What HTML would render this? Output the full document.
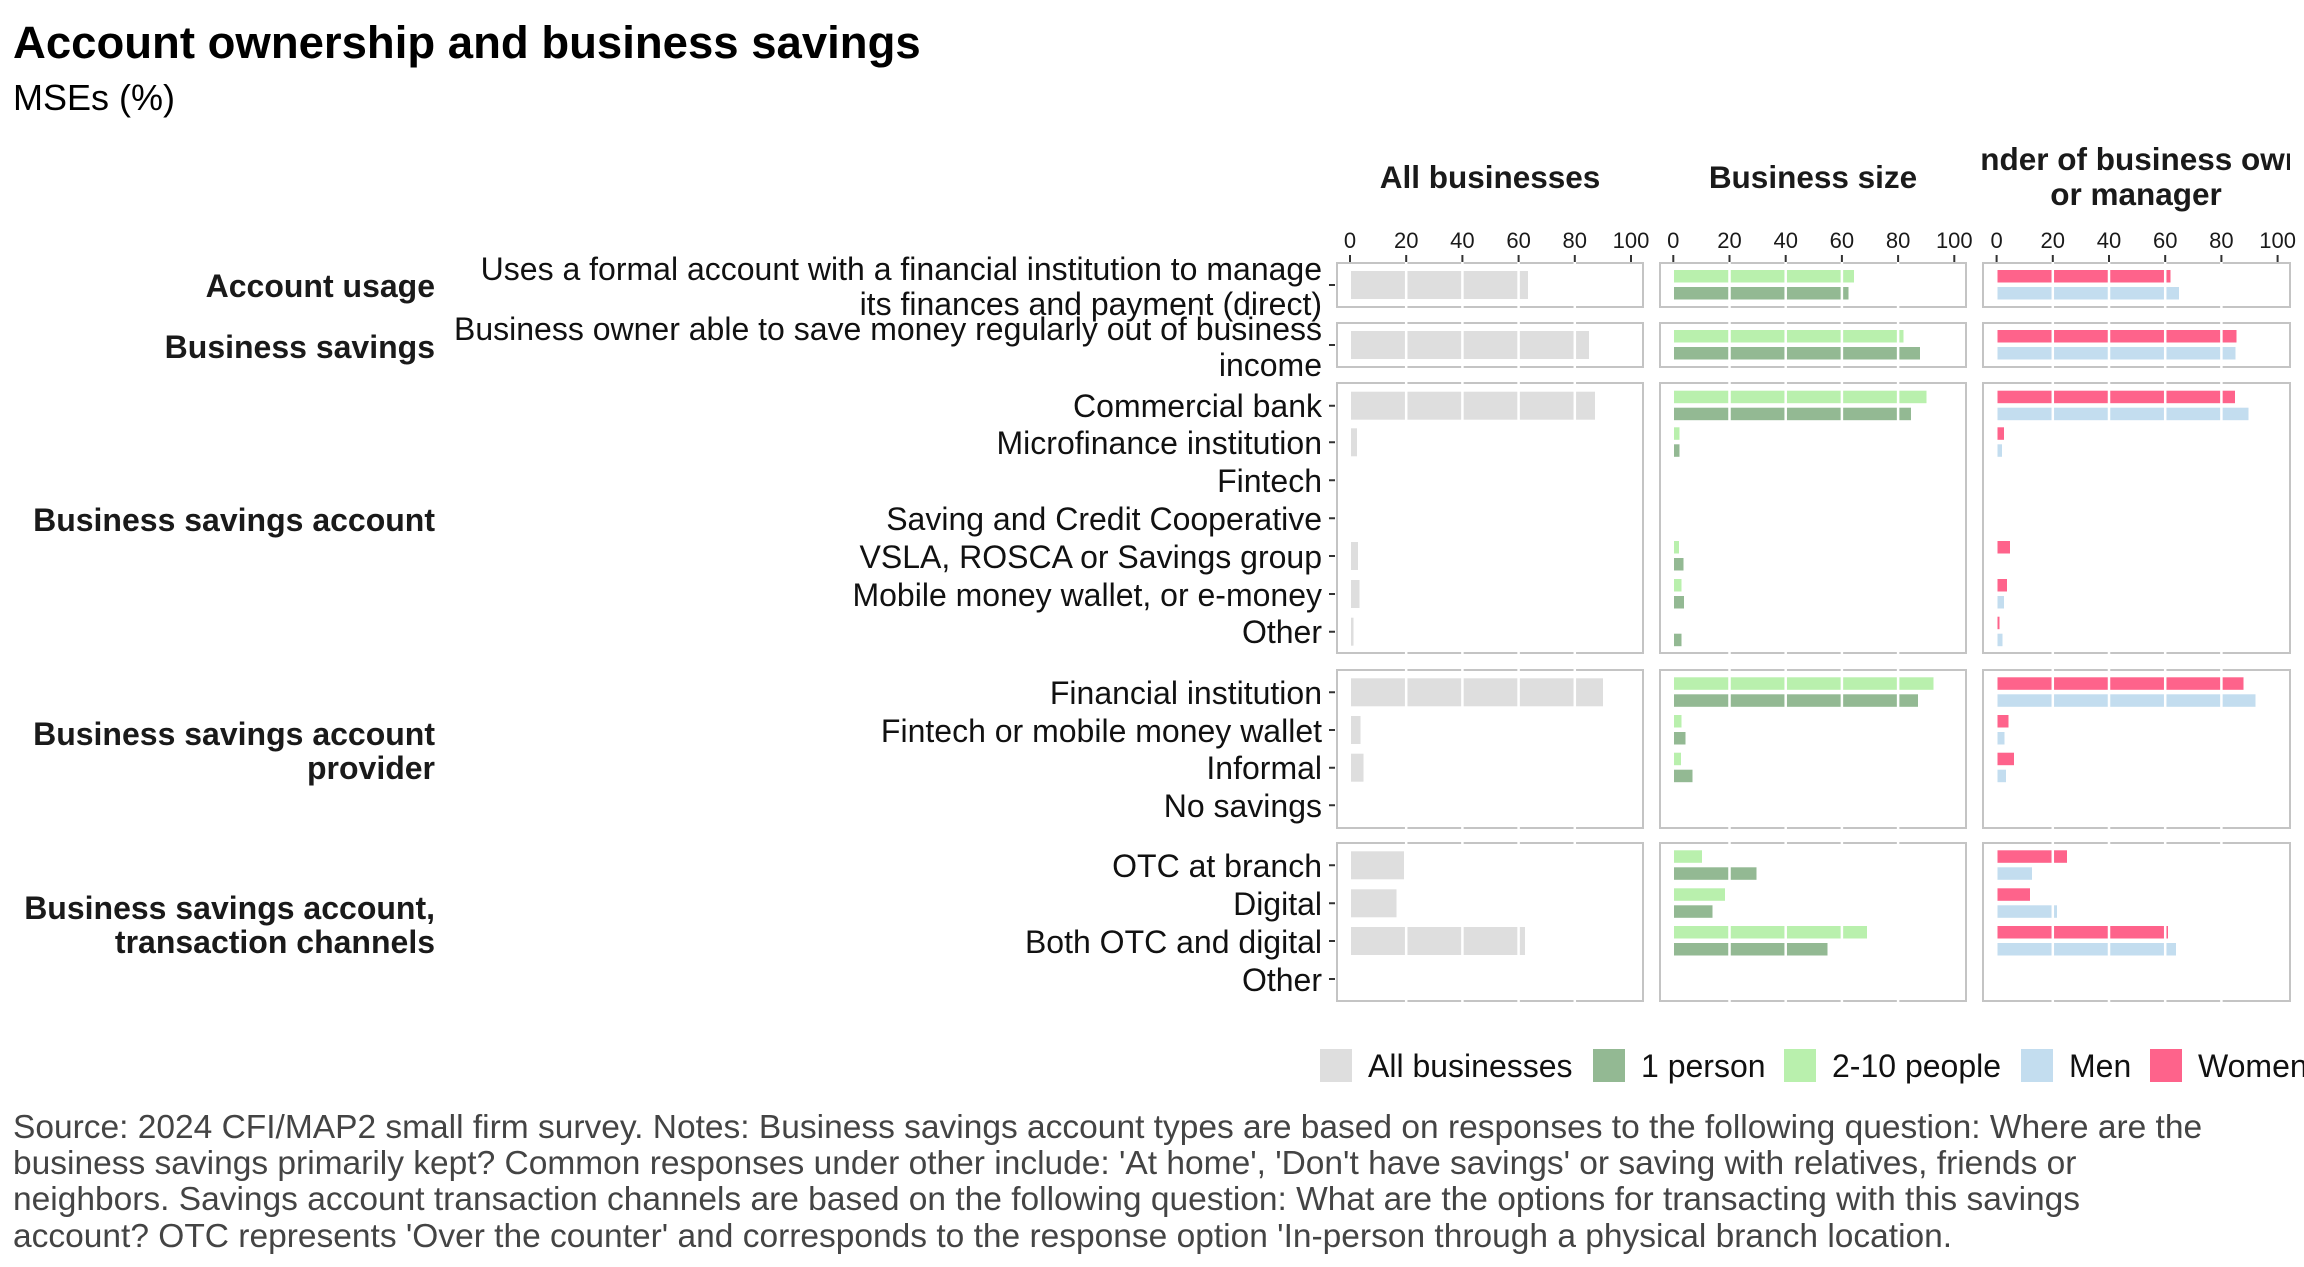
<!DOCTYPE html>
<html><head><meta charset="utf-8"><style>
html,body{margin:0;padding:0;background:#fff;}
svg{display:block;font-family:"Liberation Sans",Arial,sans-serif;}
</style></head><body>
<svg width="2304" height="1267" viewBox="0 0 2304 1267" xmlns="http://www.w3.org/2000/svg">
<defs>
<clipPath id="c3"><rect x="1982" y="130" width="308" height="90"/></clipPath>
</defs>
<text x="13" y="58" font-size="45.5" font-weight="bold" fill="#000">Account ownership and business savings</text>
<text x="13" y="110" font-size="36" fill="#000">MSEs (%)</text>

<g font-size="31.5" font-weight="bold" fill="#1a1a1a" text-anchor="middle">
<text x="1490" y="188">All businesses</text>
<text x="1813" y="188">Business size</text>
<g clip-path="url(#c3)"><text x="2136" y="170">Gender of business owner</text><text x="2136" y="205">or manager</text></g>
</g>

<g font-size="22" fill="#1a1a1a" text-anchor="middle">
<text x="1350" y="248">0</text><text x="1406.2" y="248">20</text><text x="1462.4" y="248">40</text><text x="1518.6" y="248">60</text><text x="1574.8" y="248">80</text><text x="1631" y="248">100</text>
<text x="1673.3" y="248">0</text><text x="1729.5" y="248">20</text><text x="1785.7" y="248">40</text><text x="1841.9" y="248">60</text><text x="1898.1" y="248">80</text><text x="1954.3" y="248">100</text>
<text x="1996.6" y="248">0</text><text x="2052.8" y="248">20</text><text x="2109" y="248">40</text><text x="2165.2" y="248">60</text><text x="2221.4" y="248">80</text><text x="2277.6" y="248">100</text>
</g>
<g stroke="#333" stroke-width="2">
<path d="M1350 255V262M1406.2 255V262M1462.4 255V262M1518.6 255V262M1574.8 255V262M1631 255V262"/>
<path d="M1673.3 255V262M1729.5 255V262M1785.7 255V262M1841.9 255V262M1898.1 255V262M1954.3 255V262"/>
<path d="M1996.6 255V262M2052.8 255V262M2109 255V262M2165.2 255V262M2221.4 255V262M2277.6 255V262"/>
<path d="M1329 285H1335M1329 345H1335M1329 405.7H1335M1329 442.3H1335M1329 480.3H1335M1329 518.3H1335M1329 556H1335M1329 594H1335M1329 631.7H1335M1329 692.3H1335M1329 730H1335M1329 767.7H1335M1329 805.3H1335M1329 865.3H1335M1329 903.3H1335M1329 941H1335M1329 979H1335"/>
</g>

<g font-size="32" font-weight="bold" fill="#1a1a1a" text-anchor="end">
<text x="435" y="297">Account usage</text>
<text x="435" y="358">Business savings</text>
<text x="435" y="531">Business savings account</text>
<text x="435" y="745">Business savings account</text>
<text x="435" y="779">provider</text>
<text x="435" y="919">Business savings account,</text>
<text x="435" y="953">transaction channels</text>
</g>
<g font-size="32" fill="#111" text-anchor="end">
<text x="1322" y="280">Uses a formal account with a financial institution to manage</text>
<text x="1322" y="315">its finances and payment (direct)</text>
<text x="1322" y="340">Business owner able to save money regularly out of business</text>
<text x="1322" y="376">income</text>
<text x="1322" y="417">Commercial bank</text>
<text x="1322" y="454">Microfinance institution</text>
<text x="1322" y="492">Fintech</text>
<text x="1322" y="530">Saving and Credit Cooperative</text>
<text x="1322" y="568">VSLA, ROSCA or Savings group</text>
<text x="1322" y="606">Mobile money wallet, or e-money</text>
<text x="1322" y="643">Other</text>
<text x="1322" y="704">Financial institution</text>
<text x="1322" y="742">Fintech or mobile money wallet</text>
<text x="1322" y="779">Informal</text>
<text x="1322" y="817">No savings</text>
<text x="1322" y="877">OTC at branch</text>
<text x="1322" y="915">Digital</text>
<text x="1322" y="953">Both OTC and digital</text>
<text x="1322" y="991">Other</text>
</g>

<g fill="#fff" stroke="#c4c4c4" stroke-width="2">
<rect x="1337" y="263" width="306" height="44"/><rect x="1660" y="263" width="306" height="44"/><rect x="1983" y="263" width="307" height="44"/>
<rect x="1337" y="323" width="306" height="44"/><rect x="1660" y="323" width="306" height="44"/><rect x="1983" y="323" width="307" height="44"/>
<rect x="1337" y="383" width="306" height="270"/><rect x="1660" y="383" width="306" height="270"/><rect x="1983" y="383" width="307" height="270"/>
<rect x="1337" y="670" width="306" height="158"/><rect x="1660" y="670" width="306" height="158"/><rect x="1983" y="670" width="307" height="158"/>
<rect x="1337" y="843" width="306" height="158"/><rect x="1660" y="843" width="306" height="158"/><rect x="1983" y="843" width="307" height="158"/>
</g>

<g fill="#dedede">
<rect x="1351" y="271" width="177" height="28"/>
<rect x="1351" y="331" width="238" height="28"/>
<rect x="1351" y="391.7" width="244" height="28"/>
<rect x="1351" y="428.3" width="6" height="28"/>
<rect x="1351" y="542" width="7" height="28"/>
<rect x="1351" y="580" width="8.5" height="28"/>
<rect x="1351" y="617.7" width="2.5" height="28"/>
<rect x="1351" y="678.3" width="252" height="28"/>
<rect x="1351" y="716" width="9.5" height="28"/>
<rect x="1351" y="753.7" width="12.5" height="28"/>
<rect x="1351" y="851.3" width="53" height="28"/>
<rect x="1351" y="889.3" width="45.5" height="28"/>
<rect x="1351" y="927" width="174" height="28"/>
</g>

<g fill="#b9f0ad">
<rect x="1674" y="270" width="180" height="12.5"/>
<rect x="1674" y="330" width="229.5" height="12.5"/>
<rect x="1674" y="390.7" width="252.5" height="12.5"/>
<rect x="1674" y="427.3" width="5.5" height="12.5"/>
<rect x="1674" y="541" width="5" height="12.5"/>
<rect x="1674" y="579" width="7.5" height="12.5"/>
<rect x="1674" y="677.3" width="259.5" height="12.5"/>
<rect x="1674" y="715" width="7.5" height="12.5"/>
<rect x="1674" y="752.7" width="7" height="12.5"/>
<rect x="1674" y="850.3" width="28" height="12.5"/>
<rect x="1674" y="888.3" width="51" height="12.5"/>
<rect x="1674" y="926" width="193" height="12.5"/>
</g>
<g fill="#93b993">
<rect x="1674" y="287" width="174.5" height="12.5"/>
<rect x="1674" y="347" width="246" height="12.5"/>
<rect x="1674" y="407.7" width="237" height="12.5"/>
<rect x="1674" y="444.3" width="5.5" height="12.5"/>
<rect x="1674" y="558" width="9.5" height="12.5"/>
<rect x="1674" y="596" width="10" height="12.5"/>
<rect x="1674" y="633.7" width="7.5" height="12.5"/>
<rect x="1674" y="694.3" width="244" height="12.5"/>
<rect x="1674" y="732" width="11.5" height="12.5"/>
<rect x="1674" y="769.7" width="18.5" height="12.5"/>
<rect x="1674" y="867.3" width="82.5" height="12.5"/>
<rect x="1674" y="905.3" width="38.5" height="12.5"/>
<rect x="1674" y="943" width="153.5" height="12.5"/>
</g>

<g fill="#fe638b">
<rect x="1997.5" y="270" width="173" height="12.5"/>
<rect x="1997.5" y="330" width="239" height="12.5"/>
<rect x="1997.5" y="390.7" width="237.5" height="12.5"/>
<rect x="1997.5" y="427.3" width="6.5" height="12.5"/>
<rect x="1997.5" y="541" width="12.5" height="12.5"/>
<rect x="1997.5" y="579" width="9.5" height="12.5"/>
<rect x="1997.5" y="616.7" width="2" height="12.5"/>
<rect x="1997.5" y="677.3" width="246" height="12.5"/>
<rect x="1997.5" y="715" width="11" height="12.5"/>
<rect x="1997.5" y="752.7" width="16.5" height="12.5"/>
<rect x="1997.5" y="850.3" width="69.5" height="12.5"/>
<rect x="1997.5" y="888.3" width="32.5" height="12.5"/>
<rect x="1997.5" y="926" width="170.5" height="12.5"/>
</g>
<g fill="#c3ddef">
<rect x="1997.5" y="287" width="181.5" height="12.5"/>
<rect x="1997.5" y="347" width="238" height="12.5"/>
<rect x="1997.5" y="407.7" width="251" height="12.5"/>
<rect x="1997.5" y="444.3" width="4.5" height="12.5"/>
<rect x="1997.5" y="596" width="6.5" height="12.5"/>
<rect x="1997.5" y="633.7" width="5" height="12.5"/>
<rect x="1997.5" y="694.3" width="258" height="12.5"/>
<rect x="1997.5" y="732" width="7" height="12.5"/>
<rect x="1997.5" y="769.7" width="8.5" height="12.5"/>
<rect x="1997.5" y="867.3" width="34.5" height="12.5"/>
<rect x="1997.5" y="905.3" width="59.5" height="12.5"/>
<rect x="1997.5" y="943" width="178.5" height="12.5"/>
</g>

<g stroke="#fff" stroke-width="2.5">
<path d="M1406.2 262V1002M1462.4 262V1002M1518.6 262V1002M1574.8 262V1002"/>
<path d="M1729.5 262V1002M1785.7 262V1002M1841.9 262V1002M1898.1 262V1002"/>
<path d="M2052.8 262V1002M2109 262V1002M2165.2 262V1002M2221.4 262V1002"/>
</g>
<g fill="#fff"><rect x="1336" y="309" width="968" height="12"/><rect x="1336" y="369" width="968" height="12"/><rect x="1336" y="655" width="968" height="13"/><rect x="1336" y="830" width="968" height="11"/><rect x="1336" y="1003" width="968" height="20"/></g>

<g font-size="32" fill="#111">
<rect x="1320" y="1049" width="32" height="33" fill="#dedede"/><text x="1368" y="1077">All businesses</text>
<rect x="1593" y="1049" width="32" height="33" fill="#93b993"/><text x="1641" y="1077">1 person</text>
<rect x="1784" y="1049" width="32" height="33" fill="#b9f0ad"/><text x="1832" y="1077">2-10 people</text>
<rect x="2021" y="1049" width="32" height="33" fill="#c3ddef"/><text x="2069" y="1077">Men</text>
<rect x="2150" y="1049" width="32" height="33" fill="#fe638b"/><text x="2198" y="1077">Women</text>
</g>

<g font-size="33.5" fill="#444">
<text x="13" y="1138">Source: 2024 CFI/MAP2 small firm survey. Notes: Business savings account types are based on responses to the following question: Where are the</text>
<text x="13" y="1174">business savings primarily kept? Common responses under other include: 'At home', 'Don't have savings' or saving with relatives, friends or</text>
<text x="13" y="1210">neighbors. Savings account transaction channels are based on the following question: What are the options for transacting with this savings</text>
<text x="13" y="1247">account? OTC represents 'Over the counter' and corresponds to the response option 'In-person through a physical branch location.</text>
</g>
</svg>
</body></html>
